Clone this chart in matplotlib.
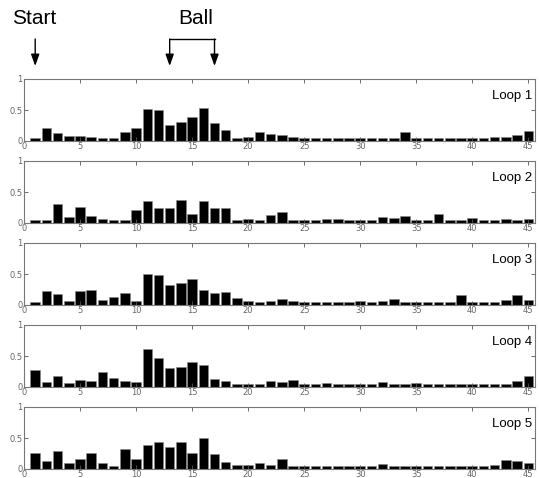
import numpy as np
import matplotlib
matplotlib.use("Agg")
import matplotlib.pyplot as plt
import matplotlib.transforms as mtransforms

# Balkenwerte pro Durchlauf (Position 1..45)
positions = np.arange(1, 46)

loop1 = [0.05, 0.21, 0.13, 0.085, 0.075, 0.06, 0.05, 0.05, 0.15, 0.21,
         0.52, 0.505, 0.26, 0.31, 0.39, 0.525, 0.29, 0.17, 0.05, 0.06,
         0.15, 0.12, 0.09, 0.06, 0.05, 0.05, 0.05, 0.05, 0.05, 0.05,
         0.05, 0.05, 0.05, 0.15, 0.05, 0.05, 0.05, 0.05, 0.05, 0.05,
         0.05, 0.07, 0.07, 0.09, 0.16]
loop2 = [0.045, 0.045, 0.31, 0.09, 0.26, 0.115, 0.065, 0.055, 0.055, 0.21,
         0.36, 0.24, 0.25, 0.37, 0.15, 0.35, 0.25, 0.25, 0.045, 0.06,
         0.045, 0.13, 0.18, 0.05, 0.05, 0.05, 0.065, 0.06, 0.05, 0.05,
         0.05, 0.09, 0.08, 0.12, 0.05, 0.05, 0.15, 0.05, 0.05, 0.075,
         0.05, 0.05, 0.06, 0.05, 0.065]
loop3 = [0.05, 0.225, 0.17, 0.065, 0.22, 0.24, 0.075, 0.125, 0.195, 0.06,
         0.505, 0.48, 0.32, 0.355, 0.415, 0.25, 0.19, 0.21, 0.12, 0.07,
         0.05, 0.065, 0.10, 0.06, 0.05, 0.05, 0.05, 0.05, 0.05, 0.06,
         0.05, 0.07, 0.095, 0.05, 0.05, 0.05, 0.05, 0.05, 0.155, 0.05,
         0.05, 0.05, 0.085, 0.165, 0.085]
loop4 = [0.28, 0.075, 0.17, 0.065, 0.12, 0.09, 0.24, 0.14, 0.10, 0.085,
         0.61, 0.47, 0.30, 0.315, 0.41, 0.36, 0.125, 0.09, 0.055, 0.055,
         0.055, 0.10, 0.08, 0.12, 0.05, 0.05, 0.06, 0.05, 0.05, 0.05,
         0.05, 0.075, 0.05, 0.05, 0.07, 0.05, 0.05, 0.05, 0.05, 0.05,
         0.05, 0.05, 0.05, 0.10, 0.17]
loop5 = [0.265, 0.13, 0.285, 0.10, 0.155, 0.265, 0.095, 0.05, 0.315, 0.16,
         0.38, 0.44, 0.355, 0.44, 0.26, 0.50, 0.245, 0.11, 0.07, 0.07,
         0.09, 0.065, 0.16, 0.05, 0.05, 0.05, 0.055, 0.05, 0.05, 0.05,
         0.05, 0.08, 0.05, 0.05, 0.05, 0.05, 0.05, 0.05, 0.05, 0.05,
         0.05, 0.07, 0.14, 0.125, 0.09]

loops = [loop1, loop2, loop3, loop4, loop5]
labels = ["Loop 1", "Loop 2", "Loop 3", "Loop 4", "Loop 5"]

start_pos = 1
ball_pos = (13, 17)

W, H = 539, 478
fig = plt.figure(figsize=(W / 100, H / 100), dpi=100)

left, right = 24 / W, 535 / W
tops = [79, 161, 243, 325, 407]
ax_h = 62

axes = []
for i, (vals, lab) in enumerate(zip(loops, labels)):
    top = tops[i]
    ax = fig.add_axes([left, 1 - (top + ax_h) / H, right - left, ax_h / H])
    ax.bar(positions, vals, width=0.85, color="black",
           edgecolor="#888888", linewidth=0.4)
    ax.set_xlim(0, 45.6)
    ax.set_ylim(0, 1)
    ax.set_xticks(np.arange(0, 46, 5))
    ax.set_yticks([0, 0.5, 1])
    ax.set_yticklabels(["0", "0.5", "1"])
    ax.tick_params(direction="in", length=3, width=0.6, color="#555555",
                   labelsize=6, labelcolor="#666666", pad=1,
                   top=True, right=True)
    for sp in ax.spines.values():
        sp.set_color("#777777")
        sp.set_linewidth(0.8)
    ax.text(0.995, 0.73, lab, transform=ax.transAxes, ha="right",
            va="center", fontsize=9.5, family="Liberation Sans")
    axes.append(ax)

# Beschriftungen oben
ax0 = axes[0]
trans = mtransforms.blended_transform_factory(ax0.transData, fig.transFigure)
y_tip = 1 - 66 / H
y_base = 1 - 39 / H
y_txt = 1 - 18 / H

arrow = dict(arrowstyle="-|>,head_length=0.7,head_width=0.25",
             color="black", lw=1.0, mutation_scale=10, shrinkA=0, shrinkB=0)

ax0.annotate("", xy=(start_pos, y_tip), xytext=(start_pos, y_base),
             xycoords=trans, textcoords=trans, arrowprops=arrow,
             annotation_clip=False)
ax0.text(start_pos - 0.1, y_txt, "Start", transform=trans, ha="center",
         va="center", fontsize=15, family="Liberation Sans")

for bx in ball_pos:
    ax0.annotate("", xy=(bx, y_tip), xytext=(bx, y_base),
                 xycoords=trans, textcoords=trans, arrowprops=arrow,
                 annotation_clip=False)
ax0.plot(ball_pos, [y_base, y_base], color="black", lw=1.0,
         transform=trans, clip_on=False)
ax0.text(np.mean(ball_pos) + 0.3, y_txt, "Ball", transform=trans,
         ha="center", va="center", fontsize=15, family="Liberation Sans")

fig.savefig("out.png", dpi=100)
